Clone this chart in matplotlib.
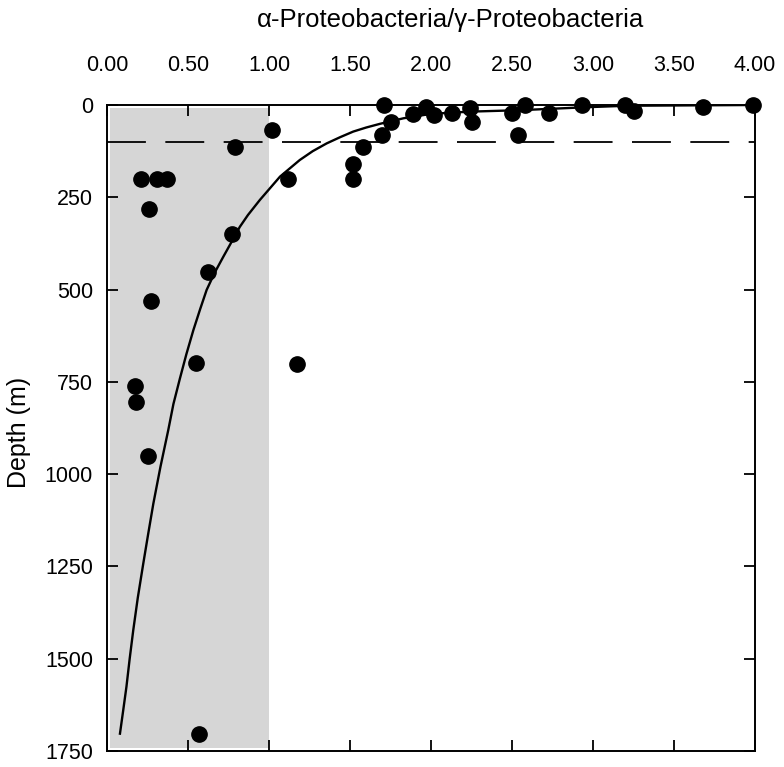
import matplotlib
matplotlib.use("Agg")
import matplotlib.pyplot as plt

plt.rcParams['font.family'] = ['Liberation Sans', 'DejaVu Sans']

# Observed points: ratio (alpha/gamma) vs depth (m)
ratio = [1.71, 1.97, 2.58, 2.93, 3.20, 3.68, 3.99, 2.24, 3.25,
         1.75, 1.89, 2.02, 2.13, 2.25, 2.50, 2.73,
         1.70, 2.54, 1.02, 0.79, 1.58, 1.52, 1.52, 1.12,
         0.21, 0.31, 0.37, 0.26, 0.77, 0.625, 0.27,
         0.55, 1.17, 0.17, 0.18, 0.25, 0.57]
depth = [0, 5, 0, 0, 0, 5, 0, 8, 15,
         45, 25, 27, 21, 45, 21, 21,
         80, 80, 68, 115, 113, 160, 200, 200,
         200, 200, 200, 283, 350, 453, 530,
         700, 702, 760, 804, 950, 1705]

# Fitted curve
curve_ratio = [0.08, 0.10, 0.12, 0.14, 0.162, 0.19, 0.224, 0.255, 0.286, 0.33,
               0.378, 0.41, 0.45, 0.49, 0.533, 0.575, 0.615, 0.665, 0.718, 0.77,
               0.82, 0.87, 0.944, 1.068, 1.19, 1.27, 1.356, 1.44, 1.52, 1.60,
               1.685, 1.83, 2.0, 2.24, 2.55, 2.96, 3.21, 4.0]
curve_depth = [1703, 1640, 1576, 1500, 1423, 1335, 1242, 1160, 1080, 980,
               881, 810, 741, 675, 610, 553, 501, 454, 411, 370,
               330, 298, 257, 194, 149, 125, 104, 87, 72, 61,
               51, 36, 24, 18, 14, 6, 2, 0]

ref_depth = 100          # dashed reference line
shade_ratio = (0.02, 1.0)  # shaded band
shade_depth = (8, 1742)

xticks = [0, 0.5, 1.0, 1.5, 2.0, 2.5, 3.0, 3.5, 4.0]
yticks = [0, 250, 500, 750, 1000, 1250, 1500, 1750]

fig = plt.figure(figsize=(7.84, 7.67), dpi=100)
ax = fig.add_axes([107/784, 1 - 751/767, (755-107)/784, (751-105)/767])

ax.fill_betweenx(shade_depth, shade_ratio[0], shade_ratio[1],
                 color='#d6d6d6', linewidth=0, zorder=0)
ax.axhline(ref_depth, color='black', linewidth=1.3,
           linestyle=(0, (28/1.3, 14/1.3)), zorder=1)
ax.plot(curve_ratio, curve_depth, color='black', linewidth=1.7, zorder=2)
ax.plot(ratio, depth, 'o', color='black', markersize=11, zorder=3,
        clip_on=False)

ax.set_xlim(0, 4)
ax.set_ylim(1750, 0)
ax.set_xticks(xticks)
ax.set_xticklabels([f"{v:.2f}" for v in xticks])
ax.set_yticks(yticks)
ax.set_yticklabels([str(v) for v in yticks])

ax.xaxis.tick_top()
ax.tick_params(axis='x', which='both', direction='in', top=True, bottom=True,
               labeltop=True, labelbottom=False, length=8, width=1.3,
               pad=21, labelsize=15.5)
ax.tick_params(axis='y', which='both', direction='in', left=True, right=True,
               labelleft=True, labelright=False, length=8, width=1.3,
               pad=10, labelsize=15.5)
for s in ax.spines.values():
    s.set_linewidth(1.4)

fig.text(451/784, 1 - 20/767, 'α-Proteobacteria/γ-Proteobacteria',
         ha='center', va='center', fontsize=18.5)
fig.text(19/784, 1 - 432/767, 'Depth (m)', rotation=90,
         ha='center', va='center', fontsize=18)

fig.savefig('out.png', dpi=100)
